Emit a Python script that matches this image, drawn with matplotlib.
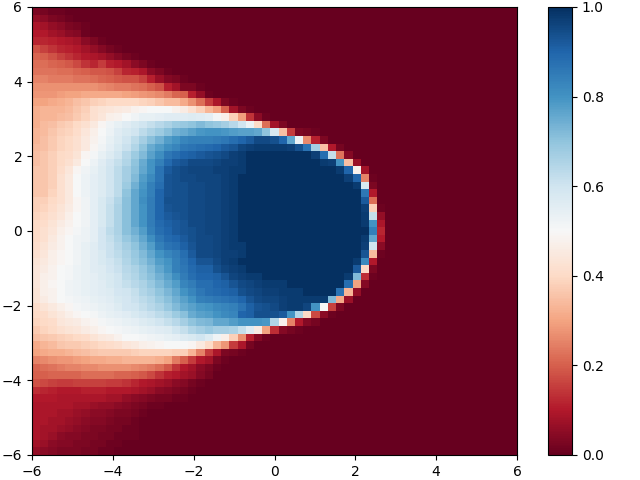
import numpy as np
import matplotlib
matplotlib.use("Agg")
import matplotlib.pyplot as plt

# Percent values per grid row, top to bottom, left to right (missing cells at the right are 0)
r00 = [3,2,1,1]
r01 = [6,5,3,2,1]
r02 = [9,8,6,5,3,2,1]
r03 = [10,10,8,7,5,4,1]
r04 = [12,12,11,10,9,8,5,3,1]
r05 = [18,16,14,12,11,10,8,6,4,2,1]
r06 = [21,20,18,16,14,12,10,9,8,6,4,2,1]
r07 = [22,22,21,20,19,17,14,12,15,11,10,8,5,3,1]
r08 = [23,23,23,22,22,21,20,19,19,18,16,12,11,9,5,3,1]
r09 = [25,25,24,24,24,23,23,22,21,20,19,18,18,16,11,7,4,3,1]
r10 = [27,27,27,27,27,27,27,27,26,25,24,24,23,22,20,18,11,8,3,3,1]
r11 = [28,28,28,29,30,30,31,31,31,31,31,30,29,28,27,26,24,21,20,11,6,1]
r12 = [30,30,31,32,33,35,36,38,39,40,40,40,40,39,38,36,34,34,31,27,22,15,9,3,1]
r13 = [32,33,33,33,34,36,38,42,43,44,45,46,48,49,50,50,50,48,46,42,38,33,29,20,8,3,1]
r14 = [32,33,33,34,35,37,39,42,44,47,48,50,52,54,54,55,56,56,56,57,56,55,51,47,38,29,14,5,1]
r15 = [32,34,35,37,38,40,42,45,49,52,54,56,58,60,62,64,66,68,69,70,72,70,69,67,64,60,53,40,22,8,3]
r16 = [33,34,36,38,39,41,44,47,50,53,56,58,60,63,66,68,71,74,75,77,79,80,80,79,78,77,77,76,70,58,35,15,3,2,1]
r17 = [33,35,37,39,40,42,45,48,51,54,57,60,63,67,71,74,78,80,83,84,84,84,85,86,88,90,92,95,95,94,90,76,53,26,11,3]
r18 = [34,35,37,39,40,42,45,49,52,55,58,61,65,70,75,78,81,83,86,87,88,89,90,92,93,96,97,98,98,98,98,97,94,87,67,35,10,2]
r19 = [35,36,38,40,41,43,49,51,54,57,60,64,68,72,77,81,86,88,90,91,92,93,94,95,97,98,99,99,99,99,99,99,99,99,97,88,62,23,4]
r20 = [35,36,38,40,42,45,50,53,56,59,62,65,70,75,80,84,89,92,93,95,95,95,96,97,97,98,99,99,99,99,99,99,99,99,99,98,97,80,35,7]
r21 = [36,36,38,41,44,49,52,54,57,60,63,67,71,76,80,87,92,94,95,96,96,96,97,97,98,98,99,99,99,99,99,99,99,99,99,99,99,98,90,48,8]
r22 = [36,36,38,42,45,50,53,55,57,60,63,67,72,78,82,87,93,94,95,95,96,96,96,97,98,99,99,99,99,99,99,99,99,99,99,99,99,99,97,90,25,1]
r23 = [36,36,38,42,45,50,53,55,57,60,63,68,74,79,84,88,93,94,94,95,95,96,96,97,98,99,99,99,99,99,99,99,99,99,99,99,99,99,99,98,58,3]
r24 = [36,36,39,42,45,50,53,55,57,60,63,70,76,80,84,90,93,94,94,95,95,96,96,97,98,99,99,99,99,99,99,99,99,99,99,99,99,99,99,99,86,10]
r25 = [38,38,40,42,45,49,52,55,58,61,65,71,76,81,85,90,94,94,94,95,95,96,96,97,98,99,99,99,99,99,99,99,99,99,99,99,99,99,99,99,92,22]
r26 = [38,39,41,43,46,49,52,55,58,62,66,71,76,80,85,90,93,94,94,95,95,96,96,97,98,99,99,99,99,99,99,99,99,99,99,99,99,99,99,99,97,38,1]
r27 = [39,40,42,44,47,50,52,55,58,62,66,71,76,80,85,90,92,93,94,95,95,96,96,97,98,99,99,99,99,99,99,99,99,99,99,99,99,99,99,99,98,62,6]
r28 = [40,41,43,46,48,50,52,55,58,62,66,71,76,80,85,89,91,92,93,95,95,96,96,97,98,99,99,99,99,99,99,99,99,99,99,99,99,99,99,99,98,80,9]
r29 = [40,42,44,47,49,51,53,55,59,63,66,71,74,78,84,88,90,92,93,94,95,96,96,97,98,99,99,99,99,99,99,99,99,99,99,99,99,99,99,99,99,84,12]
r30 = [40,42,45,48,50,52,53,55,59,62,65,69,72,76,81,86,89,90,92,94,95,95,96,97,98,99,99,99,99,99,99,99,99,99,99,99,99,99,99,99,98,76,10]
r31 = [41,43,46,48,50,52,54,56,59,61,64,67,70,74,78,84,87,88,91,93,95,95,96,97,98,98,99,99,99,99,99,99,99,99,99,99,99,99,99,99,97,60,5]
r32 = [42,44,47,49,50,52,54,56,58,61,63,66,69,72,76,80,83,85,88,92,95,95,96,97,97,98,99,99,99,99,99,99,99,99,99,99,99,99,99,99,93,34,1]
r33 = [43,45,47,49,50,52,54,56,58,60,62,65,68,71,74,78,80,84,87,90,93,93,95,97,98,99,99,99,99,99,99,99,99,99,99,99,99,99,99,98,82,10]
r34 = [44,46,48,50,51,53,54,56,57,59,61,64,66,69,72,76,79,84,86,89,91,91,94,96,97,98,99,99,99,99,99,99,99,99,99,99,99,99,99,92,40,3]
r35 = [44,47,48,50,51,53,54,55,57,58,60,63,65,68,71,74,77,81,85,88,90,90,91,93,96,97,98,98,99,99,99,99,99,99,99,99,99,99,98,72,13,1]
r36 = [44,47,49,50,52,53,54,55,56,58,60,62,64,66,69,72,75,78,83,85,88,88,90,91,93,95,96,97,98,98,98,99,99,99,99,99,99,99,88,30,4]
r37 = [43,47,48,50,52,53,54,55,56,57,59,60,62,65,67,70,73,76,80,83,86,88,89,90,91,94,95,96,97,97,98,98,98,99,99,99,99,87,33,6]
r38 = [43,46,48,50,51,52,53,54,55,56,58,59,61,63,65,68,71,74,77,80,84,85,86,87,88,90,93,95,96,96,97,98,98,98,98,98,72,31,7]
r39 = [41,43,45,47,49,51,52,53,54,55,57,59,60,62,64,66,69,72,75,77,79,80,82,83,84,87,91,93,94,95,97,98,98,96,80,50,16,3]
r40 = [40,41,43,45,47,49,50,51,53,54,55,56,58,60,61,63,65,68,71,75,77,78,80,82,83,90,91,94,94,94,92,80,65,40,17,5,1]
r41 = [39,40,41,44,45,46,48,49,51,52,53,54,55,57,58,60,62,64,67,70,72,73,76,76,78,80,80,80,79,65,48,25,10,4,2]
r42 = [37,39,40,42,43,44,46,47,49,50,51,52,53,54,55,56,57,60,62,65,67,69,67,67,66,62,56,46,30,13,4,2,1]
r43 = [35,36,37,38,39,40,41,43,45,46,48,50,50,51,52,53,54,55,57,58,60,57,52,47,38,27,11,4,1]
r44 = [31,33,34,36,37,37,38,39,40,41,42,44,45,47,48,49,50,50,50,49,45,40,33,28,15,9,2]
r45 = [30,31,32,32,33,34,35,36,37,37,37,37,38,39,39,39,39,38,38,33,25,15,9,3,2,1]
r46 = [25,26,27,28,28,29,30,31,31,32,32,33,33,33,33,32,30,24,20,15,10,8,3,1]
r47 = [21,22,23,24,25,25,26,26,27,27,27,27,26,25,24,22,19,14,10,8,5,3,1]
r48 = [20,20,21,21,21,21,22,22,22,22,21,21,20,19,17,14,11,10,8,7,4,2]
r49 = [18,17,16,15,15,16,16,16,16,15,15,14,12,10,9,8,7,5,4,2,1]
r50 = [13,12,11,10,10,10,11,11,11,10,10,10,9,8,7,5,4,3,2,1]
r51 = [10,10,10,9,9,9,9,9,9,8,8,6,5,4,3,2,2,1,1]
r52 = [9,9,9,9,9,8,8,7,6,6,5,4,3,2,1,1]
r53 = [9,9,9,8,8,7,6,5,5,4,3,3,2,1]
r54 = [9,9,8,8,7,6,5,4,4,3,2,2,1]
r55 = [9,8,8,7,6,5,4,3,3,2,2,1,1]
r56 = [9,8,7,5,4,4,3,3,2,2,1,1,1]
r57 = [8,7,5,4,4,3,3,2,2,1,1]
r58 = [6,5,4,3,3,3,2,2,1,1]

rows = [r00,r01,r02,r03,r04,r05,r06,r07,r08,r09,r10,r11,r12,r13,r14,r15,r16,r17,r18,r19,
        r20,r21,r22,r23,r24,r25,r26,r27,r28,r29,r30,r31,r32,r33,r34,r35,r36,r37,r38,r39,
        r40,r41,r42,r43,r44,r45,r46,r47,r48,r49,r50,r51,r52,r53,r54,r55,r56,r57,r58]

n = 59
Z = np.zeros((n, n))
for i, r in enumerate(rows):
    Z[n - 1 - i, :len(r)] = np.array(r) / 100.0
Z[Z >= 0.99] = 1.0

edges = np.linspace(-6, 6, n + 1)

W, H = 640, 480
fig = plt.figure(figsize=(6.4, 4.8), dpi=100)
ax = fig.add_axes([32/W, 1 - 455/H, 485/W, 448/H])
cax = fig.add_axes([548/W, 1 - 455/H, 24/W, 448/H])
mesh = ax.pcolormesh(edges, edges, Z, cmap="RdBu", vmin=0, vmax=1)
ax.set_xticks([-6, -4, -2, 0, 2, 4, 6])
ax.set_yticks([-6, -4, -2, 0, 2, 4, 6])
fig.colorbar(mesh, cax=cax)
fig.savefig("out.png", dpi=100)
